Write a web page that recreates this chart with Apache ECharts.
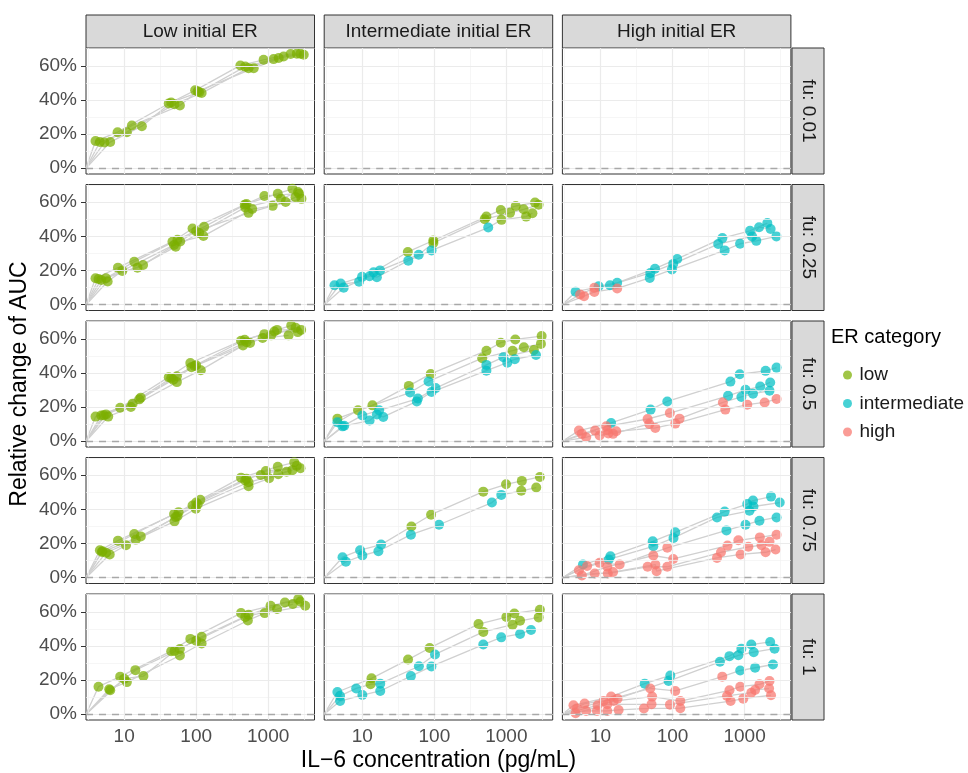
<!DOCTYPE html>
<html>
<head>
<meta charset="utf-8">
<script src="https://cdn.jsdelivr.net/npm/echarts@6/dist/echarts.min.js"></script>
<style>
html, body { margin: 0; padding: 0; background: #fff; }
#chart { width: 968px; height: 773px; }
</style>
</head>
<body>
<div id="chart"></div>
<script>
// facets
const colLabels = ['Low initial ER', 'Intermediate initial ER', 'High initial ER']
const rowLabels = ['fu: 0.01', 'fu: 0.25', 'fu: 0.5', 'fu: 0.75', 'fu: 1']
const categories = ['low', 'intermediate', 'high']
const catKey = { l: 'low', i: 'intermediate', h: 'high' }
const catColors = { low: '#7CAE00', intermediate: '#00BFC4', high: '#F8766D' }

// axes
const xTicks = [10, 100, 1000]
const xMinor = [3.16, 31.6, 316, 3160]
const yTicks = [0, 20, 40, 60]
const yMinor = [10, 30, 50, 70]
const xRange = [2.95, 4400]
const yRange = [-3.4, 70.4]

// each curve: [IL-6 pg/mL, relative change of AUC %, ER category]
const low_fu001 = [
    [[4.0, 15.9, 'l'], [8.1, 21.1, 'l'], [41.6, 37.9, 'l'], [96.8, 45.6, 'l'], [411, 60.2, 'l'], [864, 63.5, 'l'], [2050, 66.9, 'l']],
    [[4.6, 15.3, 'l'], [10.9, 21.1, 'l'], [50, 37.5, 'l'], [119, 44, 'l'], [534, 58.6, 'l'], [1190, 63.9, 'l'], [2500, 67.1, 'l']],
    [[5.3, 15, 'l'], [12.8, 25, 'l'], [59.4, 36.7, 'l'], [105, 45, 'l'], [630, 58.6, 'l'], [1640, 65.4, 'l'], [3120, 66.4, 'l']],
    [[6.4, 15.3, 'l'], [17.6, 24.6, 'l'], [45, 38.5, 'l'], [110, 44.5, 'l'], [480, 59.5, 'l'], [1400, 64.5, 'l'], [2800, 67, 'l']]
]
const low_fu025 = [
    [[4.0, 15.5, 'l'], [8.2, 21.7, 'l'], [46.8, 36.9, 'l'], [89, 44.6, 'l'], [473, 58.6, 'l'], [1360, 65, 'l'], [2170, 67.9, 'l']],
    [[5.6, 15.5, 'l'], [13.8, 25.2, 'l'], [55, 38, 'l'], [129, 45.6, 'l'], [500, 59, 'l'], [886, 63.7, 'l'], [2690, 65, 'l']],
    [[5.9, 13.6, 'l'], [9.4, 19.8, 'l'], [49.3, 35, 'l'], [100, 43, 'l'], [534, 53.8, 'l'], [1750, 60.2, 'l'], [2400, 63, 'l']],
    [[4.8, 14.5, 'l'], [18.3, 23.3, 'l'], [60, 37, 'l'], [126, 40.2, 'l'], [600, 56, 'l'], [1155, 57.9, 'l'], [2900, 62, 'l']],
    [[4.4, 15, 'l'], [15.3, 21.7, 'l'], [52, 34, 'l'], [110, 42, 'l'], [480, 57, 'l'], [1500, 62, 'l'], [2600, 66, 'l']]
]
const low_fu05 = [
    [[4.0, 14.4, 'l'], [8.8, 19.6, 'l'], [41.6, 37.5, 'l'], [83, 45.8, 'l'], [420, 58.8, 'l'], [886, 62.7, 'l'], [2090, 67.8, 'l']],
    [[5.6, 15.7, 'l'], [13.1, 22, 'l'], [54, 38, 'l'], [86, 43.3, 'l'], [472, 59.4, 'l'], [1330, 65.2, 'l'], [2870, 65.2, 'l']],
    [[6.0, 14.4, 'l'], [12.4, 20, 'l'], [54, 34.6, 'l'], [116, 41.6, 'l'], [447, 56.1, 'l'], [837, 60.4, 'l'], [1920, 62, 'l']],
    [[4.8, 15, 'l'], [16.2, 24.5, 'l'], [48, 36, 'l'], [95, 44, 'l'], [560, 57.5, 'l'], [1220, 64.3, 'l'], [2580, 63.9, 'l']],
    [[5.2, 15.2, 'l'], [17, 25.5, 'l'], [45, 37, 'l'], [100, 44.5, 'l'], [500, 58, 'l'], [1100, 62, 'l'], [2400, 66.5, 'l']]
]
const low_fu075 = [
    [[4.6, 16.1, 'l'], [8.2, 21.7, 'l'], [57, 38.4, 'l'], [114, 45.6, 'l'], [420, 58.6, 'l'], [1360, 65, 'l'], [2300, 67.6, 'l']],
    [[5.0, 15.5, 'l'], [13.8, 25.6, 'l'], [49.3, 37.3, 'l'], [89, 42.3, 'l'], [480, 57, 'l'], [928, 62.5, 'l'], [2810, 64.1, 'l']],
    [[5.6, 14.6, 'l'], [14.5, 22.3, 'l'], [50, 33, 'l'], [99, 40.4, 'l'], [534, 53.6, 'l'], [1030, 58.2, 'l'], [1800, 62.1, 'l']],
    [[6.3, 13.6, 'l'], [10.6, 19, 'l'], [52, 35.5, 'l'], [105, 43, 'l'], [534, 55.9, 'l'], [1380, 60.6, 'l'], [2170, 63, 'l']],
    [[4.9, 15, 'l'], [17, 24.2, 'l'], [55, 36, 'l'], [100, 44, 'l'], [500, 58, 'l'], [790, 60.2, 'l'], [2500, 65.5, 'l']]
]
const low_fu1 = [
    [[4.4, 16.1, 'l'], [8.8, 22, 'l'], [45, 36.9, 'l'], [83, 44.1, 'l'], [420, 59.2, 'l'], [1080, 63.5, 'l'], [2620, 67.4, 'l']],
    [[6.4, 14, 'l'], [14.3, 25.8, 'l'], [59.4, 38.2, 'l'], [119, 45.3, 'l'], [534, 58.2, 'l'], [1710, 65.4, 'l'], [2800, 66, 'l']],
    [[6.2, 14.6, 'l'], [10.9, 18.8, 'l'], [59.4, 34.4, 'l'], [119, 41.4, 'l'], [522, 54.9, 'l'], [895, 59.2, 'l'], [3270, 63.5, 'l']],
    [[10, 20.8, 'l'], [18.5, 22.3, 'l'], [50, 37, 'l'], [100, 43, 'l'], [480, 57, 'l'], [1330, 61.6, 'l'], [2200, 64.5, 'l']]
]
const int_fu025 = [
    [[4.1, 11.4, 'i'], [9.0, 13.4, 'i'], [14.3, 19, 'i'], [42.8, 30.9, 'l'], [96.8, 37.6, 'l'], [528, 51.6, 'l'], [837, 55.5, 'l'], [1350, 57.8, 'l'], [2500, 59.8, 'l']],
    [[5.0, 12.4, 'i'], [9.9, 16.3, 'i'], [17.6, 20.1, 'i'], [60.6, 29.3, 'i'], [96.8, 36.2, 'l'], [500, 50.1, 'l'], [1125, 53.8, 'l'], [1735, 55.9, 'l'], [2800, 58.5, 'l']],
    [[5.5, 9.9, 'i'], [12.6, 16.7, 'i'], [15.9, 16.1, 'i'], [43.4, 25.8, 'i'], [91.4, 31.8, 'i'], [560, 45.2, 'i'], [857, 49.7, 'l'], [1880, 51.6, 'l'], [2300, 53.6, 'l']]
]
const int_fu05 = [
    [[4.5, 13.2, 'l'], [13.8, 21, 'l'], [44.2, 32.4, 'l'], [89, 39.4, 'l'], [529, 53, 'l'], [837, 57.7, 'l'], [1330, 59.6, 'l'], [3090, 61.6, 'l']],
    [[4.5, 11.1, 'i'], [8.7, 18.1, 'l'], [46, 28.5, 'i'], [83, 35, 'i'], [462, 48.6, 'l'], [1220, 53, 'l'], [1750, 55, 'l'], [3020, 57, 'l']],
    [[5.3, 8.7, 'i'], [10, 15.1, 'i'], [17.1, 18.1, 'i'], [59, 25, 'i'], [104, 31.1, 'i'], [528, 44.7, 'i'], [908, 49.2, 'i'], [2410, 53.4, 'l']],
    [[5.6, 9, 'i'], [12.6, 12.1, 'i'], [15.9, 15.6, 'i'], [19.5, 14.2, 'i'], [57, 23.3, 'i'], [91.4, 28.8, 'i'], [528, 41.3, 'i'], [1030, 46, 'i'], [1310, 48, 'i'], [2580, 50.5, 'i']]
]
const int_fu075 = [
    [[5.3, 12, 'i'], [9.3, 16.1, 'i'], [18.2, 19.4, 'i'], [48, 30, 'l'], [90, 36.9, 'l'], [478, 50.4, 'l'], [990, 54.7, 'l'], [1640, 56.7, 'l'], [2920, 59, 'l']],
    [[5.9, 9.3, 'i'], [10, 13, 'i'], [16.7, 15.5, 'i'], [47.2, 25.2, 'i'], [116, 31, 'i'], [630, 44, 'i'], [850, 48.5, 'i'], [1610, 50.9, 'l'], [2600, 52.8, 'l']]
]
const int_fu1 = [
    [[4.5, 13, 'i'], [13.4, 21, 'l'], [43.1, 32, 'l'], [86, 38.8, 'l'], [410, 52.8, 'l'], [1000, 56.9, 'l'], [1290, 59, 'l'], [2920, 61.2, 'l']],
    [[4.9, 10.7, 'i'], [8.2, 15.1, 'i'], [13, 17.5, 'l'], [17.7, 17.9, 'i'], [61, 28.1, 'i'], [102, 35, 'i'], [478, 48.2, 'l'], [1220, 52.4, 'l'], [1550, 54.7, 'l'], [2810, 56.7, 'l']],
    [[4.9, 7.7, 'i'], [10, 11.2, 'i'], [17.7, 13.6, 'i'], [47.2, 22.3, 'i'], [91, 28, 'i'], [478, 40.8, 'i'], [850, 45, 'i'], [1550, 47, 'i'], [2200, 49.3, 'i']]
]
const high_fu025 = [
    [[5.2, 6, 'h'], [9.4, 10.8, 'i'], [17, 12.8, 'i'], [57, 21.1, 'i'], [116, 26.8, 'i'], [492, 39, 'i'], [1190, 43.3, 'i'], [2070, 47.8, 'i']],
    [[4.5, 7.6, 'i'], [8.2, 9.9, 'h'], [13.5, 11.4, 'i'], [49.1, 18.6, 'i'], [102, 23.9, 'i'], [430, 35.5, 'i'], [1270, 40, 'i'], [1590, 45.4, 'i'], [2300, 44.3, 'i']],
    [[5.9, 5, 'h'], [8.2, 7.5, 'h'], [17, 9.5, 'h'], [48.2, 15.7, 'i'], [98, 20.6, 'i'], [529, 31.8, 'i'], [866, 35.7, 'i'], [1455, 37.4, 'i'], [2770, 40, 'i']]
]
const high_fu05 = [
    [[5.0, 6.2, 'h'], [14, 10.7, 'i'], [49.5, 18.5, 'i'], [84.5, 23.3, 'i'], [636, 34.9, 'i'], [857, 39.2, 'i'], [1960, 41.2, 'i'], [2780, 43.1, 'i']],
    [[5.5, 4.3, 'h'], [12, 8.7, 'h'], [45, 13, 'h'], [91.6, 16.5, 'h'], [590, 26.6, 'i'], [1030, 30.1, 'i'], [1650, 32, 'i'], [2270, 34.4, 'i']],
    [[6.3, 2.3, 'h'], [12.4, 6.4, 'h'], [14.9, 4.3, 'h'], [47.5, 10.1, 'h'], [125, 13.2, 'h'], [500, 22.7, 'h'], [903, 25.9, 'i'], [1310, 27.8, 'i'], [2220, 29.5, 'i']],
    [[8.4, 6.2, 'h'], [9.7, 3.3, 'h'], [12.8, 4.5, 'h'], [16.5, 5.8, 'h'], [57.6, 7.8, 'h'], [109, 10.3, 'h'], [540, 18.5, 'h'], [1090, 21.4, 'h'], [1900, 22.7, 'h'], [2780, 24.7, 'h']]
]
const high_fu075 = [
    [[5.7, 7.7, 'i'], [13.7, 12.6, 'i'], [53, 21.3, 'i'], [109, 26.6, 'i'], [529, 38.7, 'i'], [1090, 43.1, 'i'], [1310, 45.2, 'i'], [2330, 47.5, 'i']],
    [[6.5, 6.8, 'h'], [13, 10.7, 'i'], [54, 18.4, 'i'], [103, 23.3, 'i'], [414, 35.3, 'i'], [1170, 39.2, 'i'], [1330, 41.7, 'i'], [3080, 44, 'i']],
    [[5.0, 4.4, 'h'], [9.7, 8.7, 'h'], [18.4, 7.7, 'h'], [84.5, 17.5, 'h'], [560, 27.7, 'i'], [1030, 31, 'i'], [1610, 33.4, 'i'], [2780, 35.3, 'i']],
    [[5.5, 1.3, 'h'], [12.4, 6.4, 'h'], [54, 13, 'h'], [102, 11, 'h'], [580, 18.8, 'h'], [820, 21.9, 'h'], [1630, 23.6, 'h'], [2780, 25.2, 'h']],
    [[8.3, 2.5, 'h'], [12.6, 2.5, 'h'], [45, 6.4, 'h'], [84.5, 6.4, 'h'], [470, 14.9, 'h'], [1130, 18.1, 'h'], [1720, 19, 'h'], [2220, 21, 'h']],
    [[14.9, 3.3, 'h'], [57.6, 7.7, 'h'], [60, 3.8, 'h'], [414, 11.6, 'h'], [880, 13.6, 'h'], [1960, 14.9, 'h'], [2700, 16.5, 'h']]
]
const high_fu1 = [
    [[4.2, 5.2, 'h'], [14, 10.3, 'h'], [41, 17.9, 'i'], [93, 22.7, 'i'], [617, 34, 'i'], [903, 38.4, 'i'], [1240, 40.8, 'i'], [2270, 42.3, 'i']],
    [[6, 6.2, 'h'], [17.2, 9.1, 'h'], [88, 19.4, 'i'], [455, 30.7, 'i'], [820, 34.5, 'i'], [1340, 36.3, 'i'], [2610, 38.4, 'i']],
    [[4.7, 3.3, 'h'], [11, 7.7, 'h'], [49, 15.1, 'h'], [109, 13.6, 'h'], [490, 22, 'h'], [870, 25.6, 'i'], [1400, 27.2, 'i'], [2480, 29.1, 'i']],
    [[9.1, 5.2, 'h'], [15.2, 7.7, 'h'], [52, 10.3, 'h'], [128, 7.7, 'h'], [617, 14, 'h'], [870, 16.1, 'h'], [1610, 17.5, 'h'], [2220, 19.4, 'h']],
    [[4.5, 0.6, 'h'], [12.4, 5.8, 'h'], [51, 5.8, 'h'], [92, 5.6, 'h'], [570, 10.7, 'h'], [1240, 12.6, 'h'], [1400, 14.2, 'h'], [2190, 15, 'h']],
    [[6.3, 1.9, 'h'], [8.9, 1.9, 'h'], [12.4, 1.9, 'h'], [17.8, 2.5, 'h'], [40, 3.3, 'h'], [128, 3.5, 'h'], [640, 7.7, 'h'], [960, 9.1, 'h'], [2330, 11.1, 'h']]
]

const panelData = [
    [low_fu001, [], []],
    [low_fu025, int_fu025, high_fu025],
    [low_fu05, int_fu05, high_fu05],
    [low_fu075, int_fu075, high_fu075],
    [low_fu1, int_fu1, high_fu1]
]

// layout (px)
const L0 = 86, colStep = 238.2, panelW = 228.5
const T0 = 48, rowStep = 136.5, panelH = 126
const font = '"Liberation Sans", Arial, Helvetica, sans-serif'

const grids = [], xAxes = [], yAxes = [], series = [], graphics = []
const minorStyle = { color: '#F2F2F2', width: 0.7, type: 'solid' }
const majorStyle = { color: '#EBEBEB', width: 1.2, type: 'solid' }
const zeroStyle = { color: '#A8A8A8', width: 1.3, type: [7, 6] }

rowLabels.forEach((rowLabel, r) => {
    colLabels.forEach((colLabel, c) => {
        const i = r * 3 + c
        const left = L0 + c * colStep
        const top = T0 + r * rowStep
        const bottomRow = r === rowLabels.length - 1
        const leftCol = c === 0
        grids.push({ left, top, width: panelW, height: panelH, show: true, borderColor: '#333333', borderWidth: 1, backgroundColor: '#fff' })
        xAxes.push({
            type: 'log', logBase: 10, gridIndex: i, min: xRange[0], max: xRange[1],
            axisLine: { show: false }, splitLine: { show: false },
            axisTick: { show: bottomRow, length: 5, customValues: xTicks, lineStyle: { color: '#333333', width: 1 } },
            axisLabel: { show: bottomRow, customValues: xTicks, margin: 7, fontSize: 19, color: '#4D4D4D', fontFamily: font, formatter: (v) => String(Math.round(v)) }
        })
        yAxes.push({
            type: 'value', gridIndex: i, min: yRange[0], max: yRange[1],
            axisLine: { show: false }, splitLine: { show: false },
            axisTick: { show: leftCol, length: 5, customValues: yTicks, lineStyle: { color: '#333333', width: 1 } },
            axisLabel: { show: leftCol, customValues: yTicks, margin: 9, fontSize: 19, color: '#4D4D4D', fontFamily: font, formatter: (v) => v + '%' }
        })
        // panel grid lines + dashed zero line
        series.push({
            type: 'line', xAxisIndex: i, yAxisIndex: i, data: [], silent: true, z: 1,
            markLine: {
                silent: true, symbol: ['none', 'none'], animation: false, label: { show: false },
                lineStyle: { type: 'solid' },
                data: [
                    ...yMinor.map((v) => ({ yAxis: v, lineStyle: minorStyle })),
                    ...xMinor.map((v) => ({ xAxis: v, lineStyle: minorStyle })),
                    ...yTicks.map((v) => ({ yAxis: v, lineStyle: majorStyle })),
                    ...xTicks.map((v) => ({ xAxis: v, lineStyle: majorStyle })),
                    { yAxis: 0, lineStyle: zeroStyle }
                ]
            }
        })
        const curves = panelData[r][c]
        curves.forEach((curve) => {
            const pts = curve.slice().sort((a, b) => a[0] - b[0]).map((p) => [p[0], p[1]])
            series.push({
                type: 'line', xAxisIndex: i, yAxisIndex: i, silent: true, z: 3,
                symbol: 'none', data: [[xRange[0], 0], ...pts],
                lineStyle: { color: '#D0D0D0', width: 1.3 }
            })
        })
        categories.forEach((cat) => {
            const pts = []
            curves.forEach((curve) => curve.forEach((p) => {
                if (catKey[p[2]] === cat) pts.push([p[0], p[1]])
            }))
            series.push({
                type: 'scatter', name: cat, xAxisIndex: i, yAxisIndex: i, z: 4,
                symbolSize: 10, data: pts,
                itemStyle: { color: catColors[cat], opacity: 0.72 }
            })
        })
        // top strips
        if (r === 0) {
            graphics.push({ type: 'rect', shape: { x: left, y: 15, width: panelW, height: 33 }, style: { fill: '#D9D9D9', stroke: '#333333', lineWidth: 1 } })
            graphics.push({ type: 'text', x: left + panelW / 2, y: 31.5, style: { text: colLabel, fill: '#1A1A1A', fontSize: 19, fontFamily: font, align: 'center', verticalAlign: 'middle', textAlign: 'center', textVerticalAlign: 'middle' } })
        }
        // right strips
        if (c === colLabels.length - 1) {
            graphics.push({ type: 'rect', shape: { x: 792, y: top, width: 32, height: panelH }, style: { fill: '#D9D9D9', stroke: '#333333', lineWidth: 1 } })
            graphics.push({ type: 'text', x: 808, y: top + panelH / 2, rotation: -Math.PI / 2, style: { text: rowLabel, fill: '#1A1A1A', fontSize: 19, fontFamily: font, align: 'center', verticalAlign: 'middle', textAlign: 'center', textVerticalAlign: 'middle' } })
        }
    })
})

// axis titles + legend title
graphics.push({ type: 'text', x: 438.5, y: 761, style: { text: 'IL−6 concentration (pg/mL)', fill: '#000', fontSize: 23, fontFamily: font, align: 'center', verticalAlign: 'middle', textAlign: 'center', textVerticalAlign: 'middle' } })
graphics.push({ type: 'text', x: 20, y: 384, rotation: Math.PI / 2, style: { text: 'Relative change of AUC', fill: '#000', fontSize: 23, fontFamily: font, align: 'center', verticalAlign: 'middle', textAlign: 'center', textVerticalAlign: 'middle' } })
graphics.push({ type: 'text', x: 831, y: 337, style: { text: 'ER category', fill: '#000', fontSize: 20, fontFamily: font, align: 'left', verticalAlign: 'middle', textAlign: 'left', textVerticalAlign: 'middle' } })

const myChart = echarts.init(document.getElementById('chart'))
const option = {
    animation: false,
    grid: grids,
    xAxis: xAxes,
    yAxis: yAxes,
    legend: {
        data: categories, orient: 'vertical', left: 838, top: 360.5,
        icon: 'circle', itemWidth: 14, itemHeight: 9, itemGap: 9.5, selectedMode: false,
        textStyle: { fontSize: 19, color: '#1A1A1A', fontFamily: font }
    },
    series: series,
    graphic: graphics
}
option && myChart.setOption(option)
</script>
</body>
</html>
